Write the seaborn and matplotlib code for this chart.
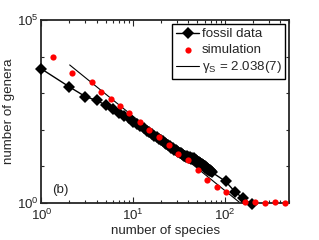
import numpy as np
import pandas as pd
import matplotlib
matplotlib.use('Agg')
import matplotlib.pyplot as plt
import seaborn as sns
from matplotlib.ticker import LogLocator, NullFormatter

# fossil data (number of species -> number of genera)
fossil_species = list(range(1, 71)) + [72, 102, 128, 158, 195]
fossil_genera = [4650, 1515, 815, 635, 475, 360, 294, 238, 205, 166,
                 142, 124, 108, 94, 86, 76, 69, 62, 57, 51,
                 48, 43, 41, 37, 36, 32, 31.5, 28.5, 28, 25.5,
                 25, 23, 22.5, 21, 20.5, 19, 19.5, 18, 18.5, 17.5,
                 17, 17.5, 16, 17, 15.5, 16.5, 14.5, 15, 13.5, 14,
                 12.5, 13, 12, 12.5, 11, 11.5, 10.5, 11, 10, 10,
                 9, 9.5, 8.5, 9, 8, 8.5, 7.8, 7.5, 7.8, 7.2,
                 6.8, 3.8, 2.0, 1.3, 0.9]

# simulation
sim_species = [1.33, 2.15, 3.56, 4.49, 5.72, 7.2, 9.1, 11.9, 15.0, 19.2,
               24.6, 31.1, 39.9, 50.5, 63.2, 81, 104, 165, 212, 272, 349, 448]
sim_genera = [9600, 3650, 2000, 1070, 675, 435, 284, 161, 99, 62,
              38.5, 21.8, 14.3, 7.8, 4.2, 2.6, 2.0, 1.06, 1.06, 1.0, 1.03, 1.0]

# power-law fit, gamma_S = 2.038(7)
fit_species = [2.03, 145]
fit_genera = [5990, 1]

sns.set_style('ticks')
plt.rcParams['font.family'] = ['Liberation Sans', 'DejaVu Sans']
plt.rcParams['mathtext.fontset'] = 'custom'
plt.rcParams['mathtext.rm'] = 'Liberation Sans'
plt.rcParams['mathtext.it'] = 'Liberation Sans'
plt.rcParams['font.size'] = 9.6

fig = plt.figure(figsize=(3.19, 2.40), dpi=100)
ax = fig.add_axes([0.130, 0.156, 0.776, 0.759])
ax.set_xscale('log')
ax.set_yscale('log')

fossil = pd.DataFrame({'species': fossil_species, 'genera': fossil_genera})
sim = pd.DataFrame({'species': sim_species, 'genera': sim_genera})
fit = pd.DataFrame({'species': fit_species, 'genera': fit_genera})

sns.lineplot(data=fossil, x='species', y='genera', ax=ax, color='k', lw=1,
             marker='D', markersize=6.2, markeredgewidth=0, label='fossil data',
             clip_on=False, zorder=3)
sns.scatterplot(data=sim, x='species', y='genera', ax=ax, color='red', s=20,
                linewidth=0, label='simulation', clip_on=False, zorder=4)
sns.lineplot(data=fit, x='species', y='genera', ax=ax, color='k', lw=0.8,
             label='γ$_\\mathregular{S}$ = 2.038(7)', zorder=2)

ax.set_xlim(1, 500)
ax.set_ylim(1, 1e5)
ax.set_yticks([1, 1e5])
ax.yaxis.set_minor_locator(LogLocator(base=10, subs=(1.0,), numticks=10))
ax.yaxis.set_minor_formatter(NullFormatter())
ax.xaxis.set_minor_locator(LogLocator(base=10, subs=np.arange(2, 10), numticks=20))
ax.xaxis.set_minor_formatter(NullFormatter())
ax.tick_params(which='both', direction='in', top=True, right=True, width=0.8)
ax.tick_params(which='major', length=4)
ax.tick_params(which='minor', length=2)
ax.tick_params(axis='x', which='major', pad=4)
ax.tick_params(axis='y', which='major', pad=2)
for sp in ax.spines.values():
    sp.set_linewidth(1.3)

ax.set_xlabel('number of species', labelpad=1)
ax.set_ylabel('number of genera', labelpad=1)
ax.text(0.045, 0.055, '(b)', transform=ax.transAxes, fontsize=9.6)

leg = ax.legend(loc='upper right', bbox_to_anchor=(0.985, 0.98), fancybox=False,
                edgecolor='k', framealpha=1, handlelength=1.7, handletextpad=0.2,
                labelspacing=0.25, borderpad=0.3, borderaxespad=0)
leg.get_frame().set_linewidth(1.0)

fig.savefig('out.png', dpi=100)
